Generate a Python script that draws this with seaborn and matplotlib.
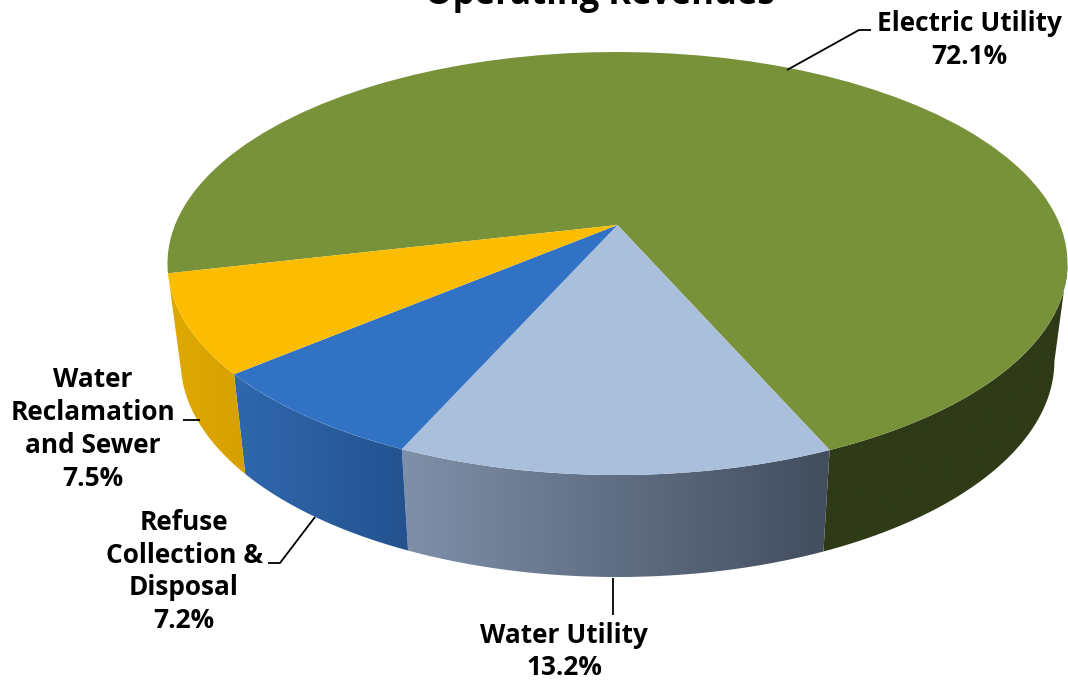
import numpy as np
import matplotlib
matplotlib.use("Agg")
import matplotlib.pyplot as plt
from matplotlib.colors import LinearSegmentedColormap
from matplotlib.patches import Polygon
from matplotlib.transforms import Transform
import seaborn as sns

# ---- data ----
categories = ["Electric Utility", "Water Utility", "Refuse Collection & Disposal", "Water Reclamation and Sewer"]
shares = [72.1, 13.2, 7.2, 7.5]
title = "Operating Revenues"
top_colors = ["#78923A", "#A9BFDC", "#3172C4", "#FCBD00"]
wall_left = ["#2F3A17", "#7F90A9", "#2F68AE", "#E0A900"]
wall_right = ["#2F3A17", "#424D5E", "#24528F", "#D6A000"]

sns.set_theme(style="white")
plt.rcParams["font.family"] = ["Open Sans", "DejaVu Sans"]

START = 193.1
CX, CY, A, H, K = 617.5, 225.0, 442.5, 204.5, 0.182
CY2, A2, H2 = 321.5, 429.6, 209.0


class Tilt(Transform):
    input_dims = output_dims = 2
    is_separable = False
    has_inverse = False

    def __init__(self, cy, a, h):
        super().__init__()
        self.cy, self.a, self.h = cy, a, h

    def transform_non_affine(self, xy):
        xy = np.asarray(xy, float)
        w = 1 + K * xy[:, 1]
        return np.column_stack([CX + self.a * xy[:, 0] / w, self.cy - self.h * xy[:, 1] / w])


fig = plt.figure(figsize=(10.68, 6.81), dpi=100)
ax = fig.add_axes([0, 0, 1, 1])

top = Tilt(CY, A, H)
low = Tilt(CY2, A2, H2)

# side wall: one horizontally shaded band per slice, on the near part of the rim
edges = START - np.concatenate([[0], np.cumsum(shares)]) * 3.6
for i in range(len(shares)):
    th = np.radians(np.linspace(edges[i], edges[i + 1], int(abs(edges[i + 1] - edges[i])) * 4 + 2))
    th = th[np.sin(th) < -K]
    # keep the longest contiguous run of the rim
    gaps = np.where(np.diff(th) < -2 * np.radians(abs(edges[i + 1] - edges[i])) / 100)[0]
    runs = np.split(th, gaps + 1)
    th = max(runs, key=len)
    u = np.column_stack([np.cos(th), np.sin(th)])
    pt, pb = top.transform_non_affine(u), low.transform_non_affine(u)
    outline = np.vstack([pt, pb[::-1]])
    lo, hi = outline[:, 0].min(), outline[:, 0].max()
    cmap = LinearSegmentedColormap.from_list(f"wall{i}", [wall_left[i], wall_right[i]])
    im = ax.imshow(np.linspace(0, 1, 256)[None, :], cmap=cmap, extent=(lo, hi, 0, 681),
                   aspect="auto", zorder=1, interpolation="bilinear")
    clip = Polygon(outline, closed=True, transform=ax.transData, facecolor="none", edgecolor="none")
    ax.add_patch(clip)
    im.set_clip_path(clip)

# top face: the pie itself, tilted through a projective transform
wedges, _ = ax.pie(shares, colors=top_colors, startangle=START, counterclock=False, radius=1,
                   wedgeprops=dict(linewidth=0))
for w in wedges:
    w.set_transform(top + ax.transData)
    w.set_zorder(2)

ax.set_aspect("auto")
ax.set_xlim(0, 1068)
ax.set_ylim(681, 0)
ax.axis("off")

# leader lines
for xs, ys in [([787, 859, 871], [70, 30, 30]),
               ([613, 613], [578, 615]),
               ([315, 280, 268], [517, 563, 563]),
               ([200, 183], [420, 420])]:
    ax.plot(xs, ys, color="black", lw=1.3, zorder=3, solid_capstyle="butt")

lab = dict(ha="center", va="center", fontweight="bold", color="black", fontsize=18.9, linespacing=1.27, zorder=4)
ax.text(969, 40, f"{categories[0]}\n{shares[0]}%", **lab)
ax.text(564, 651.5, f"{categories[1]}\n{shares[1]}%", **lab)
ax.text(184, 571.5, f"Refuse\nCollection &\nDisposal\n{shares[2]}%", **lab)
ax.text(93, 429, f"Water\nReclamation\nand Sewer\n{shares[3]}%", **lab)
ax.text(600, 4, title, ha="center", va="baseline", fontweight="bold", color="black", fontsize=25, clip_on=False)

fig.savefig("out.png", dpi=100)
